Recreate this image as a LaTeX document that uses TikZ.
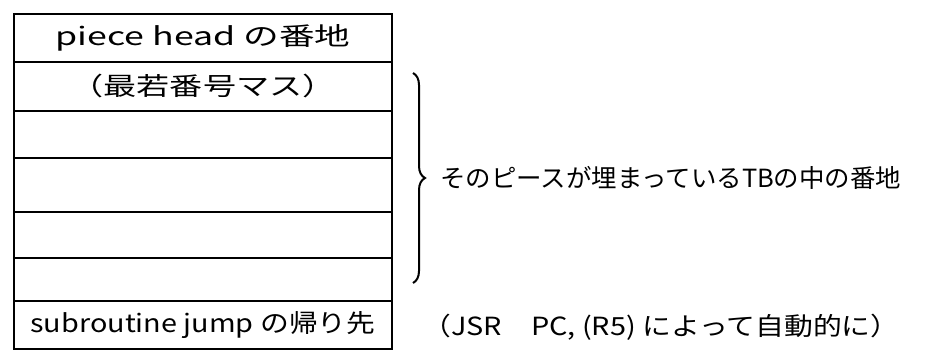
\documentclass[tikz,border=0pt]{standalone}
\usepackage{fontspec}
\setmainfont{Noto Sans CJK JP}
\usetikzlibrary{decorations.pathreplacing}
\newcommand\fitto[2]{\resizebox{#1}{\height}{#2}}
\begin{document}
\begin{tikzpicture}[x=1pt,y=-1pt,
  cell/.style={draw, line width=2pt, minimum width=378pt, anchor=north west,
    inner sep=0pt, outer sep=0pt, font=\fontsize{25}{27}\selectfont},
  lbl/.style={font=\fontsize{25}{27}\selectfont, inner sep=0pt},
  bracestyle/.style={line width=2pt, decorate, decoration={brace, amplitude=12pt}}]
\fill[white] (0,0) rectangle (926,352);
\useasboundingbox (0,0) rectangle (926,352);
\node[cell, minimum height=48pt] (r1) at (14,14) {\fitto{295pt}{piece head の番地}};
\node[cell, minimum height=49pt] (r2) at (r1.south west) {\fitto{265pt}{（最若番号マス）}};
\node[cell, minimum height=47pt] (r3) at (r2.south west) {};
\node[cell, minimum height=54pt] (r4) at (r3.south west) {};
\node[cell, minimum height=46pt] (r5) at (r4.south west) {};
\node[cell, minimum height=43pt] (r6) at (r5.south west) {};
\node[cell, minimum height=48pt] (r7) at (r6.south west) {\fitto{345pt}{subroutine jump の帰り先}};
\coordinate (bt) at (413,73);
\coordinate (bb) at (413,283);
\draw[bracestyle] (bt) -- (bb);
\node[lbl, anchor=west] (desc) at (440,178) {\fitto{461pt}{そのピースが埋まっているTBの中の番地}};
\node[lbl] (note) at (661,327) {\fitto{477pt}{（JSR\quad PC, (R5) によって自動的に）}};
\end{tikzpicture}
\end{document}
